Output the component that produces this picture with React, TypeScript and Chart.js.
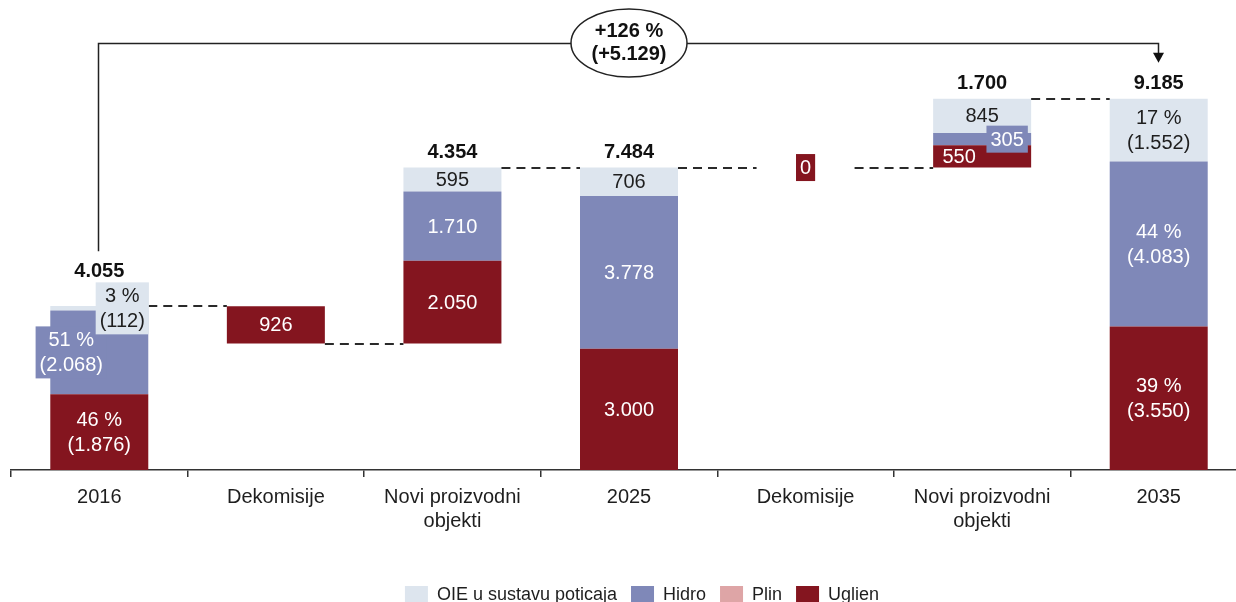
import React, { useEffect, useRef } from "react";
import { Chart, registerables } from "chart.js";

Chart.register(...registerables);

// ---------- data ----------
const categories: string[][] = [
  ["2016"],
  ["Dekomisije"],
  ["Novi proizvodni", "objekti"],
  ["2025"],
  ["Dekomisije"],
  ["Novi proizvodni", "objekti"],
  ["2035"],
];
const stepKinds = ["total", "decrease", "increase", "total", "decrease", "increase", "total"];
const uglien = [1876, 926, 2050, 3000, 0, 550, 3550];
const plin = [0, 0, 0, 0, 0, 0, 0];
const hidro = [2068, 0, 1710, 3778, 0, 305, 4083];
const oie = [112, 0, 595, 706, 0, 845, 1552];
const stepTotals = [4055, 926, 4354, 7484, 0, 1700, 9185];
const percentColumns = [0, 6];
const changeLabel = ["+126 %", "(+5.129)"];
const seriesNames = ["OIE u sustavu poticaja", "Hidro", "Plin", "Uglien"];

// ---------- styles ----------
const FONT = "'Liberation Sans', Arial, sans-serif";
const COLORS: Record<string, string> = {
  "OIE u sustavu poticaja": "#dde5ee",
  Hidro: "#7f88b8",
  Plin: "#dea5a6",
  Uglien: "#84151f",
};
// label offsets / boxes (presentation only)
const labelShift: Record<string, number> = { "0-Hidro": -28, "0-OIE u sustavu poticaja": 23, "5-Hidro": 25, "5-Uglien": -23 };
const labelBox: Record<string, boolean> = { "0-Hidro": true, "0-OIE u sustavu poticaja": true, "5-Hidro": true, "4-Uglien": true };

// waterfall bases / levels derived from the step values
const base: number[] = [];
const levels: number[] = [];
{
  let level = 0;
  stepKinds.forEach((k, i) => {
    if (k === "total") {
      base.push(0);
      level = stepTotals[i];
    } else if (k === "decrease") {
      level = level - stepTotals[i];
      base.push(level);
    } else {
      base.push(level);
      level = level + stepTotals[i];
    }
    levels.push(level);
  });
}

const fmt = (n: number) => String(n).replace(/\B(?=(\d{3})+(?!\d))/g, ".");

const overlayPlugin = {
  id: "waterfallOverlay",
  afterDatasetsDraw(chart: any) {
    const ctx = chart.ctx as CanvasRenderingContext2D;
    const ys = chart.scales.y;
    const bars = chart.getDatasetMeta(1).data;
    ctx.save();

    // connectors
    ctx.strokeStyle = "#2a2a2a";
    ctx.lineWidth = 2;
    ctx.setLineDash([9, 6]);
    for (let i = 0; i < categories.length - 1; i++) {
      const a = bars[i];
      const b = bars[i + 1];
      const y = Math.round(ys.getPixelForValue(levels[i]));
      ctx.beginPath();
      ctx.moveTo(a.x + a.width / 2, y);
      ctx.lineTo(b.x - b.width / 2, y);
      ctx.stroke();
    }
    ctx.setLineDash([]);

    // segment labels
    const series = [
      { name: "Uglien", data: uglien },
      { name: "Hidro", data: hidro },
      { name: "OIE u sustavu poticaja", data: oie },
    ];
    const boxTop: number[] = categories.map(() => Infinity);
    const lineH = 25;
    ctx.font = `20px ${FONT}`;
    ctx.textAlign = "center";
    ctx.textBaseline = "middle";
    for (let i = 0; i < categories.length; i++) {
      const total = uglien[i] + plin[i] + hidro[i] + oie[i];
      let cum = base[i];
      series.forEach((s) => {
        const v = s.data[i];
        const show = v > 0 || (total === 0 && s.name === "Uglien");
        if (show) {
          const key = `${i}-${s.name}`;
          const lines = percentColumns.includes(i)
            ? [`${Math.round((v / total) * 100)} %`, `(${fmt(v)})`]
            : [fmt(v)];
          const cx = bars[i].x + (labelShift[key] || 0);
          const cy = ys.getPixelForValue(cum + v / 2);
          if (labelBox[key]) {
            const w = Math.max(...lines.map((l) => ctx.measureText(l).width)) + 8;
            const h = lines.length * lineH + 2;
            ctx.fillStyle = COLORS[s.name];
            ctx.fillRect(cx - w / 2, cy - h / 2, w, h);
            boxTop[i] = Math.min(boxTop[i], cy - h / 2);
          }
          ctx.fillStyle = s.name === "OIE u sustavu poticaja" ? "#1e1e1e" : "#ffffff";
          lines.forEach((l, k) => {
            ctx.fillText(l, cx, cy + (k - (lines.length - 1) / 2) * lineH + 1);
          });
        }
        cum += v;
      });
    }

    // totals
    const totalY: number[] = [];
    ctx.font = `bold 20px ${FONT}`;
    ctx.fillStyle = "#111";
    for (let i = 0; i < categories.length; i++) {
      if (stepKinds[i] === "decrease") {
        totalY.push(NaN);
        continue;
      }
      const top = ys.getPixelForValue(levels[i]);
      const y = Math.min(top - 16, boxTop[i] - 12);
      totalY.push(y);
      ctx.fillText(fmt(stepTotals[i]), bars[i].x, y + 1);
    }

    // bracket
    const x0 = bars[0].x;
    const x1 = bars[categories.length - 1].x;
    const yTop = 43.5;
    const tipY = totalY[categories.length - 1] - 20;
    ctx.strokeStyle = "#222";
    ctx.lineWidth = 1.5;
    ctx.beginPath();
    ctx.moveTo(Math.round(x0) - 0.5, totalY[0] - 19);
    ctx.lineTo(Math.round(x0) - 0.5, yTop);
    ctx.lineTo(Math.round(x1) - 0.5, yTop);
    ctx.lineTo(Math.round(x1) - 0.5, tipY - 9);
    ctx.stroke();
    ctx.fillStyle = "#111";
    ctx.beginPath();
    ctx.moveTo(Math.round(x1) - 0.5 - 5.5, tipY - 10);
    ctx.lineTo(Math.round(x1) - 0.5 + 5.5, tipY - 10);
    ctx.lineTo(Math.round(x1) - 0.5, tipY);
    ctx.closePath();
    ctx.fill();

    // ellipse with change label
    const ex = (x0 + x1) / 2;
    ctx.beginPath();
    ctx.ellipse(ex, 43, 58, 34, 0, 0, Math.PI * 2);
    ctx.fillStyle = "#fff";
    ctx.fill();
    ctx.strokeStyle = "#222";
    ctx.stroke();
    ctx.fillStyle = "#111";
    ctx.font = `bold 20px ${FONT}`;
    ctx.fillText(changeLabel[0], ex, 31);
    ctx.fillText(changeLabel[1], ex, 54);

    // legend
    ctx.font = `18px ${FONT}`;
    ctx.textAlign = "left";
    const boxW = 23;
    const gap = 9;
    const itemGap = 14;
    const widths = seriesNames.map((n) => boxW + gap + ctx.measureText(n).width);
    const totalW = widths.reduce((a, b) => a + b, 0) + itemGap * (seriesNames.length - 1);
    let lx = 642 - totalW / 2;
    seriesNames.forEach((n, k) => {
      ctx.fillStyle = COLORS[n];
      ctx.fillRect(lx, 586, boxW, 17);
      ctx.fillStyle = "#1e1e1e";
      ctx.fillText(n, lx + boxW + gap, 595);
      lx += widths[k] + itemGap;
    });

    ctx.restore();
  },
};

export default function App() {
  const ref = useRef<HTMLCanvasElement | null>(null);

  useEffect(() => {
    if (!ref.current) return;
    const chart = new Chart(ref.current, {
      type: "bar",
      data: {
        labels: categories,
        datasets: [
          { label: "base", data: base, backgroundColor: "rgba(0,0,0,0)" },
          { label: "Uglien", data: uglien, backgroundColor: COLORS.Uglien },
          { label: "Plin", data: plin, backgroundColor: COLORS.Plin },
          { label: "Hidro", data: hidro, backgroundColor: COLORS.Hidro },
          { label: "OIE u sustavu poticaja", data: oie, backgroundColor: COLORS["OIE u sustavu poticaja"] },
        ],
      },
      options: {
        animation: false,
        responsive: false,
        devicePixelRatio: 1,
        datasets: { bar: { barPercentage: 1, categoryPercentage: 0.555, borderWidth: 0 } },
        layout: { padding: { left: 11, right: 3, top: 0, bottom: 0 } },
        plugins: { legend: { display: false }, tooltip: { enabled: false } },
        scales: {
          x: {
            stacked: true,
            offset: true,
            grid: { display: true, drawOnChartArea: false, drawTicks: true, tickLength: 7, color: "#333", lineWidth: 1.5 },
            border: { display: true, color: "#333", width: 1.5 },
            ticks: { color: "#1e1e1e", font: { family: FONT, size: 20 }, padding: 8, maxRotation: 0, autoSkip: false },
            afterFit: (s: any) => {
              s.height = 132;
            },
          },
          y: { stacked: true, display: false, min: 0, max: 11630 },
        },
      } as any,
      plugins: [overlayPlugin],
    });
    return () => chart.destroy();
  }, []);

  return (
    <div style={{ position: "absolute", left: 0, top: 0, width: 1236, height: 602, overflow: "hidden", background: "#fff" }}>
      <canvas ref={ref} width={1250} height={602} style={{ display: "block", width: 1250, height: 602 }} />
    </div>
  );
}
